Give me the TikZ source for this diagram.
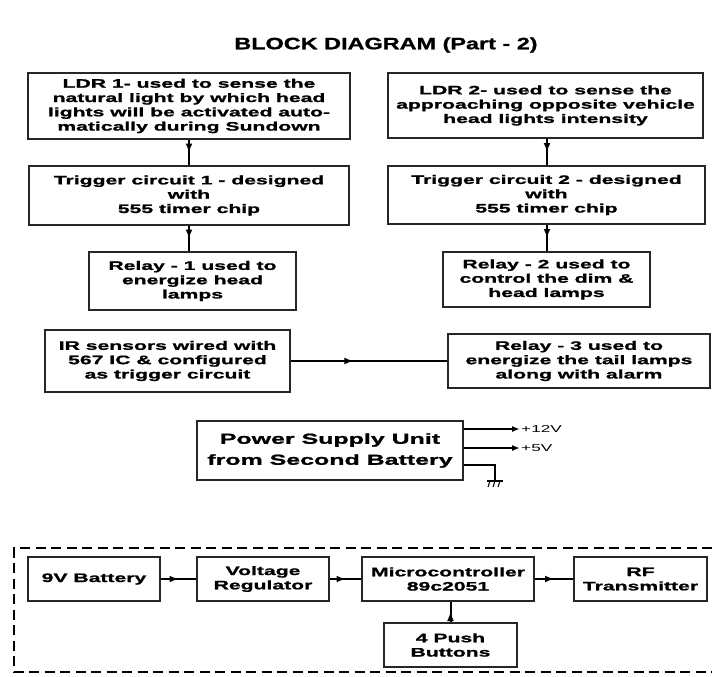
\documentclass[tikz,border=0pt]{standalone}
\usepackage{fontspec}
\setmainfont{Liberation Sans}
\newfontfamily\boxfont{Liberation Sans}[FakeStretch=1.72, BoldFeatures={FakeBold=1.3}]
\newfontfamily\titlefont{Liberation Sans}[FakeStretch=1.42, BoldFeatures={FakeBold=1}]
\usetikzlibrary{arrows.meta,decorations.markings}
\begin{document}
\begin{tikzpicture}[x=1pt,y=-1pt,
  blk/.style={draw=black!85, line width=2.2pt, align=center, inner sep=0pt,
    font=\boxfont\bfseries\fontsize{12.3}{14.3}\selectfont},
  midarrow/.style={line width=2pt, postaction={decorate}, decoration={markings,
    mark=at position #1 with {\arrow{Latex[length=9pt,width=7pt]}}}},
  midarrow/.default=0.5,
  endarrow/.style={line width=1.6pt, -{Latex[length=8pt,width=6pt]}},
  vlabel/.style={font=\boxfont\fontsize{10}{12}\selectfont, anchor=west, inner sep=1pt}]
\useasboundingbox (0,0) rectangle (712,677);
\fill[white] (0,0) rectangle (712,677);

\node[font=\titlefont\bfseries\fontsize{16.5}{19}\selectfont] (title) at (386,45) {BLOCK DIAGRAM (Part - 2)};

% left column
\node[blk, minimum width=322pt, minimum height=66pt] (ldr1) at (189,106)
  {LDR 1- used to sense the\\natural light by which head\\lights will be activated auto-\\matically during Sundown};
\node[blk, minimum width=320pt, minimum height=59pt] (trig1) at (189,195.5)
  {Trigger circuit 1 - designed\\with\\555 timer chip};
\node[blk, minimum width=207pt, minimum height=58pt] (relay1) at (192.5,281)
  {Relay - 1 used to\\energize head\\lamps};

% right column
\node[blk, minimum width=315pt, minimum height=65pt] (ldr2) at (545.5,105.5)
  {LDR 2- used to sense the\\approaching opposite vehicle\\head lights intensity};
\node[blk, minimum width=317pt, minimum height=58pt] (trig2) at (546.5,195)
  {Trigger circuit 2 - designed\\with\\555 timer chip};
\node[blk, minimum width=207pt, minimum height=55pt] (relay2) at (546.5,279.5)
  {Relay - 2 used to\\control the dim \&\\head lamps};

\draw[midarrow] (ldr1.south) -- (trig1.north);
\draw[midarrow] (trig1.south) -- (trig1.south |- relay1.north);
\draw[midarrow] (ldr2.south -| 547,0) -- (trig2.north -| 547,0);
\draw[midarrow] (trig2.south -| 547,0) -- (relay2.north -| 547,0);

% IR row
\node[blk, minimum width=245pt, minimum height=62pt] (ir) at (167.5,361)
  {IR sensors wired with\\567 IC \& configured\\as trigger circuit};
\node[blk, minimum width=262pt, minimum height=54pt] (relay3) at (579,361)
  {Relay - 3 used to\\energize the tail lamps\\along with alarm};
\draw[midarrow=0.4] (ir.east) -- (relay3.west);

% power supply
\node[blk, minimum width=266pt, minimum height=59pt,
  font=\boxfont\bfseries\fontsize{14.5}{21}\selectfont] (psu) at (330,450.5)
  {Power Supply Unit\\from Second Battery};
\coordinate (v12) at (520,429);
\coordinate (v5) at (520,448);
\coordinate (gnd) at (495,481);
\draw[endarrow] (psu.east |- v12) -- (v12);
\draw[endarrow] (psu.east |- v5) -- (v5);
\node[vlabel] (l12) at (v12) {+12V};
\node[vlabel] (l5) at (v5) {+5V};
\draw[line width=1.6pt] (psu.east |- 0,465) -| (gnd);
\draw[line width=1.6pt] (487,481) -- (503,481);
\draw[line width=1pt] (490,481) -- (488,487) (495,481) -- (493,487) (500,481) -- (498,487);

% bottom dashed section
\draw[line width=2.6pt, dash pattern=on 10pt off 5.5pt] (712,548) -- (14,548) -- (14,672) -- (712,672);
\node[blk, minimum width=132pt, minimum height=44pt] (bat) at (94,579) {9V Battery};
\node[blk, minimum width=132pt, minimum height=44pt] (vr) at (263,579) {Voltage\\Regulator};
\node[blk, minimum width=172pt, minimum height=44pt] (mc) at (448,579) {Microcontroller\\89c2051};
\node[blk, minimum width=133pt, minimum height=44pt] (rf) at (640.5,579) {RF\\Transmitter};
\node[blk, minimum width=133pt, minimum height=44pt] (pb) at (450.5,645) {4 Push\\Buttons};
\draw[midarrow] (bat.east) -- (vr.west);
\draw[midarrow] (vr.east) -- (mc.west);
\draw[midarrow] (mc.east) -- (rf.west);
\draw[midarrow] (pb.north) -- (pb.north |- mc.south);
\end{tikzpicture}
\end{document}
